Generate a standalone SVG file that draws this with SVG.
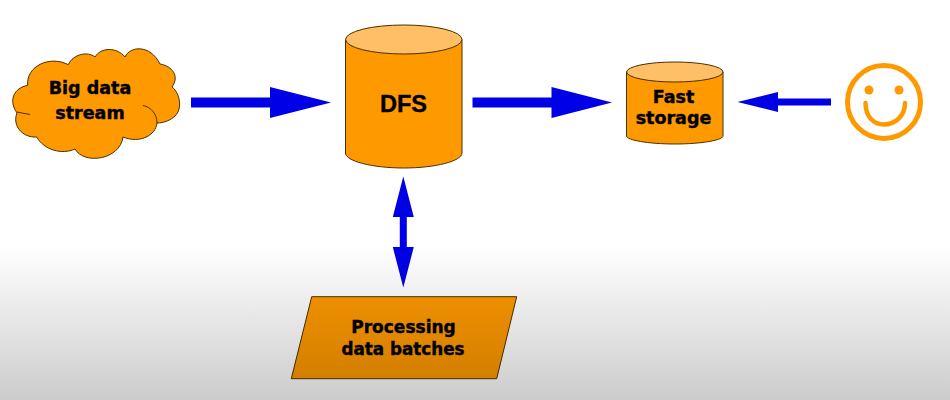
<svg xmlns="http://www.w3.org/2000/svg" width="950" height="400" viewBox="0 0 950 400">
<style>
.shape{fill:#ff9900;stroke:#4a3000;stroke-width:1}
.top{fill:#ffbf66;stroke:#4a3000;stroke-width:1}
.inner{fill:none;stroke:#4a3000;stroke-width:1}
.arrow{fill:#0000e6;stroke:none}
.label{font-family:"DejaVu Sans",sans-serif;font-weight:700;font-size:17.5px;fill:#000;stroke:#000;stroke-width:.4;text-anchor:middle}
</style>
<defs>
<linearGradient id="shade" x1="0" y1="0" x2="0" y2="1">
<stop offset="0" stop-color="#000" stop-opacity="0"/>
<stop offset="1" stop-color="#000" stop-opacity="0.2"/>
</linearGradient>
</defs>
<rect width="950" height="400" fill="#fff"/>
<g id="connectors">
<path class="arrow" d="M191 97.500H270V87L331 102.500L270 118V107.500H191Z"/>
<path class="arrow" d="M472.500 97.500H551.500V87L612 102.500L551.500 118V107.500H472.500Z"/>
<path class="arrow" d="M831 98.500H778V92L737.500 102L778 112V105.500H831Z"/>
<path class="arrow" d="M403.300 176.500L413.800 217H406.800V247H413.800L403.300 287.500L392.800 247H399.800V217H392.800Z"/>
</g>
<g id="cloud">
<path class="shape" d="M27.700 85.300C26 66 50 55 68.300 64.700C73 54 88 51 95 57C101 47 117 47 125 57C130 46 150 44 160 64C172 66 180 76 172 87C181 94 182 110 175 116C171 120 164 123 157 123C156 135 140 144 123 137C120 160 84 165 75 149C62 155 44 150 36.700 137C22 138 12 125 17 113C8 100 14 88 27.700 85.300Z"/>
<path class="inner" d="M143 105.500C151 107 157 114 157 123M17 112L30 114.500"/>
<text class="label" x="90" y="94">Big data</text>
<text class="label" x="90" y="119">stream</text>
</g>
<g id="dfs">
<path class="shape" d="M345.500 39.500V153C345.500 161 372 168 403.800 168S462 161 462 153V39.500Z"/>
<ellipse class="top" cx="403.800" cy="39.500" rx="58.200" ry="14.500"/>
<text class="label" x="403.500" y="111.500" style="font-family:'Liberation Sans',sans-serif;font-size:23.500px">DFS</text>
</g>
<g id="fast-storage">
<path class="shape" d="M626.500 72V136C626.500 140 648 144 675 144S723 140 723 136V72Z"/>
<ellipse class="top" cx="674.800" cy="72" rx="48.200" ry="10"/>
<text class="label" x="673.500" y="102.500">Fast</text>
<text class="label" x="673.500" y="124">storage</text>
</g>
<g id="user">
<circle cx="884" cy="102" r="36.500" fill="none" stroke="#ff9900" stroke-width="5"/>
<circle cx="869" cy="90" r="4.500" fill="#ff9900"/>
<circle cx="899" cy="90" r="4.500" fill="#ff9900"/>
<path d="M865.500 103C865.500 117 874 124.500 884 124.500S905 117 905 103" fill="none" stroke="#ff9900" stroke-width="4.500" stroke-linecap="round"/>
</g>
<g id="processing">
<path class="shape" d="M311.700 296.700H516.700L496.700 378.700H291.300Z"/>
<text class="label" x="403.500" y="333" style="font-size:17px">Processing</text>
<text class="label" x="403" y="355" style="font-size:16.800px">data batches</text>
</g>
<rect width="950" height="155" y="245" fill="url(#shade)"/>
</svg>
